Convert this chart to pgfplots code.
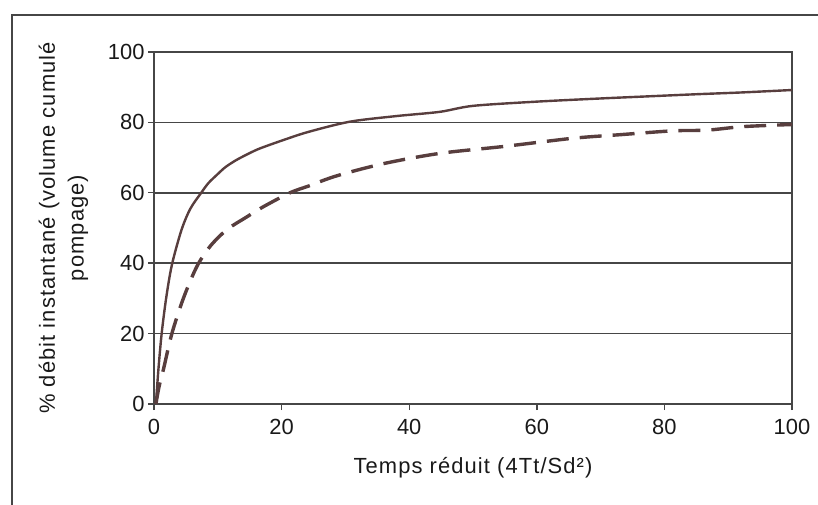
\documentclass[border=0pt]{standalone}
\usepackage{pgfplots}
\pgfplotsset{compat=1.18}
\usepackage{fontspec}
\setmainfont{Liberation Sans}
\newfontfamily\labfont[LetterSpace=5]{Liberation Sans}
\definecolor{curve}{RGB}{88,62,62}
\definecolor{axgray}{RGB}{70,70,70}
\begin{document}
\begin{tikzpicture}
\path[use as bounding box] (0,0) rectangle (818bp,505bp);
\draw[axgray, line width=1.8bp] (12bp,0) -- (12bp,490bp) -- (818bp,490bp);
\begin{axis}[
  at={(154bp,101bp)}, anchor=south west,
  scale only axis, width=638bp, height=352bp,
  xmin=0, xmax=100, ymin=0, ymax=100,
  xtick={0,20,...,100}, ytick={0,20,...,100},
  xtick pos=bottom, ytick pos=left,
  tick align=outside, major tick length=6bp,
  axis line style={axgray, line width=1.6bp},
  every tick/.style={axgray, line width=1.4bp},
  ymajorgrids, grid style={axgray, line width=1.6bp},
  /pgf/number format/assume math mode=true,
  tick label style={font=\fontsize{22}{26}\selectfont, text=black!90},
  xticklabel style={yshift=-6bp},
  xlabel={Temps réduit (4Tt/Sd²)},
  ylabel={\% débit instantané (volume cumulé\\pompage)},
  xlabel style={font=\labfont\fontsize{22}{26}\selectfont, at={(axis description cs:0.5,-0.182)}, anchor=center, text=black!90},
  ylabel style={font=\labfont\fontsize{22}{29}\selectfont, align=center, at={(axis description cs:-0.142,0.5)}, anchor=center, text=black!90},
]
\addplot[curve, line width=2.4bp, smooth, tension=0.5] coordinates {
(0.3,0) (0.7,10) (1.2,20) (1.9,30) (2.8,39.5) (4.3,49.4) (5.7,55.5) (7.4,60) (8.5,62.7) (9.8,65) (11.2,67.3) (12.9,69.3) (14.8,71.1) (16.6,72.6) (20.3,75) (24.2,77.3) (30.7,80.2) (38,81.8) (44.8,83) (50,84.7) (60,85.9) (70,86.8) (76.2,87.3) (85,88) (92,88.5) (100,89.2)
};
\addplot[curve, line width=3.4bp, dash pattern=on 22bp off 11bp, smooth, tension=0.5] coordinates {
(0.3,0) (0.8,5) (1.5,10) (2.8,20) (4.6,30) (6.7,39) (8.8,44.8) (11.4,49.5) (14.5,53.1) (17.1,56) (21.3,60) (24.2,61.9) (28.6,64.8) (36,68.3) (44.8,71.2) (55,73.2) (65.7,75.5) (73,76.5) (81.3,77.6) (86.7,77.8) (92.3,78.8) (100,79.4)
};
\end{axis}
\end{tikzpicture}
\end{document}
